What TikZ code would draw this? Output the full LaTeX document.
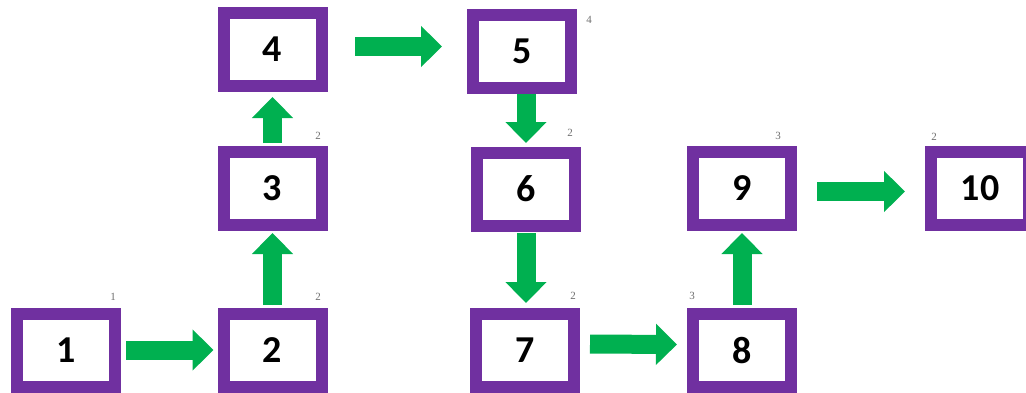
\documentclass[tikz,border=0pt]{standalone}
\usepackage{fontspec}
\setmainfont{Carlito}
\newfontfamily\smallserif{Liberation Serif}
\usetikzlibrary{arrows.meta,calc}
\definecolor{boxpurple}{RGB}{112,48,160}
\definecolor{arrgreen}{RGB}{0,176,80}
\definecolor{labgray}{RGB}{110,110,110}
\tikzset{
  numbox/.style={draw=boxpurple, line width=12pt, fill=white, minimum width=98pt, minimum height=73pt, inner sep=0pt, font=\fontsize{38}{40}\selectfont\bfseries, text=black},
  garrow/.style={draw=arrgreen, fill=arrgreen, line width=19pt, -{Triangle[width=40pt,length=21pt]}},
  smalllab/.style={font=\smallserif\fontsize{11}{12}\selectfont, text=labgray, inner sep=0pt}
}
\begin{document}
\begin{tikzpicture}[x=1pt,y=-1pt]
\useasboundingbox (0,0) rectangle (1026,392);
\node[numbox] (b1) at (66,350) {1};
\node[numbox] (b2) at (272.5,350) {2};
\node[numbox] (b3) at (272.5,188.5) {3};
\node[numbox] (b4) at (272.5,49.5) {4};
\node[numbox] (b5) at (522,51) {5};
\node[numbox] (b6) at (526,189) {6};
\node[numbox] (b7) at (525,350) {7};
\node[numbox] (b8) at (742,350.5) {8};
\node[numbox] (b9) at (742,188.5) {9};
\node[numbox] (b10) at (980,188.5) {10};

\node[smalllab] (l1) at (113,297) {1};
\node[smalllab] (l2) at (318,297) {2};
\node[smalllab] (l3) at (318,136) {2};
\node[smalllab] (l5) at (589,20) {4};
\node[smalllab] (l6) at (570,133) {2};
\node[smalllab] (l7) at (573,296) {2};
\node[smalllab] (l8) at (692,296) {3};
\node[smalllab] (l9) at (778,136) {3};
\node[smalllab] (l10) at (934,137) {2};

\draw[garrow, shorten <=5pt, shorten >=4pt] (b1.east) -- (b2.west);
\draw[garrow, shorten <=2.5pt, shorten >=2pt] (b2.north) -- (b3.south);
\draw[garrow, shorten <=3pt, shorten >=5pt] (b3.north) -- (b4.south);
\draw[garrow, shorten <=27.5pt, shorten >=25pt] ([yshift=3pt]b4.east) -- ([yshift=3pt]b4.east -| b5.west);
\draw[garrow, shorten >=3.5pt] (b5.south -| b6.north) -- (b6.north);
\draw[garrow, shorten <=1.5pt, shorten >=4.5pt] (b6.south) -- (b6.south |- b7.north);
\draw[garrow, shorten <=10pt, shorten >=10pt] ([yshift=6pt]b7.east) -- ([yshift=6pt]b8.west);
\draw[garrow, shorten <=3pt, shorten >=2pt] (b8.north) -- (b9.south);
\draw[garrow, shorten <=20pt, shorten >=20pt] ([yshift=-3pt]b9.east) -- ([yshift=-3pt]b10.west);
\end{tikzpicture}
\end{document}
